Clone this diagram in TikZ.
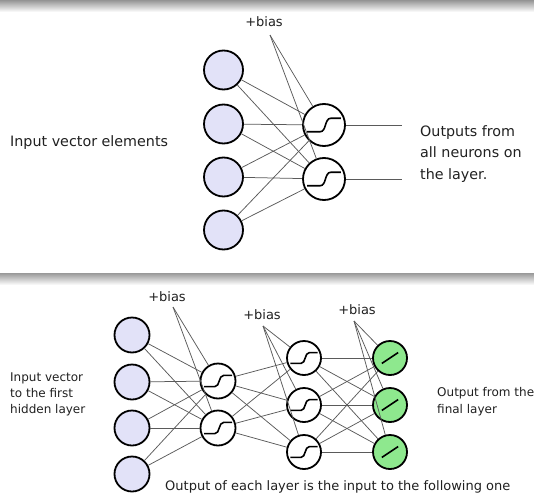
\documentclass[tikz,border=0pt]{standalone}
\usepackage{fontspec}
\setmainfont{DejaVu Sans}
\definecolor{inputfill}{HTML}{E2E2F8}
\definecolor{outfill}{HTML}{8EE88E}
\definecolor{wire}{HTML}{5A5A5A}
\definecolor{txt}{HTML}{202020}
\tikzset{
  inneuron/.style={circle, draw=black, line width=1.8pt, fill=inputfill, minimum size=#1, inner sep=0pt},
  signeuron/.style={circle, draw=black, line width=1.8pt, fill=white, minimum size=#1, inner sep=0pt,
    path picture={\draw[line width=1.6pt, black]
      ([xshift=-0.8*#1/2, yshift=-0.32*#1/2]path picture bounding box.center) -- ++(0.62*#1/2,0)
      .. controls +(0.3*#1/2,0) and +(-0.3*#1/2,0) .. ++(0.5*#1/2,0.64*#1/2) -- ++(0.48*#1/2,0);}},
  linneuron/.style={circle, draw=black, line width=1.8pt, fill=outfill, minimum size=#1, inner sep=0pt,
    path picture={\draw[line width=1.6pt, black]
      ([xshift=-0.48*#1/2, yshift=-0.32*#1/2]path picture bounding box.center) -- ++(0.96*#1/2,0.64*#1/2);}},
  wirestyle/.style={draw=wire, line width=0.75pt},
  label/.style={text=txt, font=\fontsize{13}{16}\selectfont, inner sep=0pt},
  toplabel/.style={label, font=\fontsize{14.3}{21.5}\selectfont},
  multitop/.style={toplabel, align=left, anchor=north west},
  multibot/.style={label, align=left, anchor=north west, font=\fontsize{12}{#1}\selectfont}
}
\begin{document}
\begin{tikzpicture}[x=1pt,y=-1pt]
\useasboundingbox (0,0) rectangle (534,497);
% shaded separator bars
\shade[top color=black!42, bottom color=white] (0,0) rectangle (534,12);
\shade[top color=black!40, bottom color=white] (0,273) rectangle (534,285);

% ---------- single layer ----------
\foreach \i/\y in {1/70,2/124,3/177,4/230}
  \node[inneuron=39pt] (a\i) at (223.5,\y) {};
\node[signeuron=42pt] (s1) at (324,125) {};
\node[signeuron=42pt] (s2) at (324,179) {};
\node[label] (tb) at (264,22) {+bias};
\coordinate (tbp) at (270,35);
\foreach \i in {1,...,4}
  \foreach \j in {1,2}
    \draw[wirestyle] (a\i) -- (s\j);
\draw[wirestyle] (tbp) -- (s1);
\draw[wirestyle] (tbp) -- (s2);
\coordinate (o1) at (402,125);
\coordinate (o2) at (402,179);
\draw[wirestyle] (s1) -- (o1);
\draw[wirestyle] (s2) -- (o2);
\node[toplabel, anchor=west] (tin) at (10,143) {Input vector elements};
\node[multitop] (tout) at (420,125) {Outputs from\\all neurons on\\the layer.};

% ---------- multi layer ----------
\foreach \i/\y in {1/335,2/382,3/428,4/474}
  \node[inneuron=35pt] (x\i) at (132,\y) {};
\node[signeuron=35pt] (h1) at (218,381) {};
\node[signeuron=35pt] (h2) at (218,428) {};
\foreach \i/\y in {1/358,2/405,3/452}
  \node[signeuron=34pt] (g\i) at (304,\y) {};
\foreach \i/\y in {1/358,2/405,3/452}
  \node[linneuron=34pt] (y\i) at (390,\y) {};

\node[label] (b1) at (167,297) {+bias};
\node[label] (b2) at (262,315) {+bias};
\node[label] (b3) at (357,310) {+bias};
\coordinate (b1p) at (173,307);
\coordinate (b2p) at (263,326);
\coordinate (b3p) at (354,321);

\foreach \i in {1,...,4}
  \foreach \j in {1,2}
    \draw[wirestyle] (x\i) -- (h\j);
\foreach \i in {1,2}
  \foreach \j in {1,2,3}
    \draw[wirestyle] (h\i) -- (g\j);
\foreach \i in {1,2,3}
  \foreach \j in {1,2,3}
    \draw[wirestyle] (g\i) -- (y\j);
\foreach \j in {1,2}
  \draw[wirestyle] (b1p) -- (h\j);
\foreach \j in {1,2,3}
  \draw[wirestyle] (b2p) -- (g\j);
\foreach \j in {1,2,3}
  \draw[wirestyle] (b3p) -- (y\j);

\node[multibot=16] (lin) at (10,373) {Input vector\\to the first\\hidden layer};
\node[multibot=17] (lout) at (437,387) {Output from the\\final layer};
\node[label, anchor=west] (lbot) at (165,487) {Output of each layer is the input to the following one};
\end{tikzpicture}
\end{document}
